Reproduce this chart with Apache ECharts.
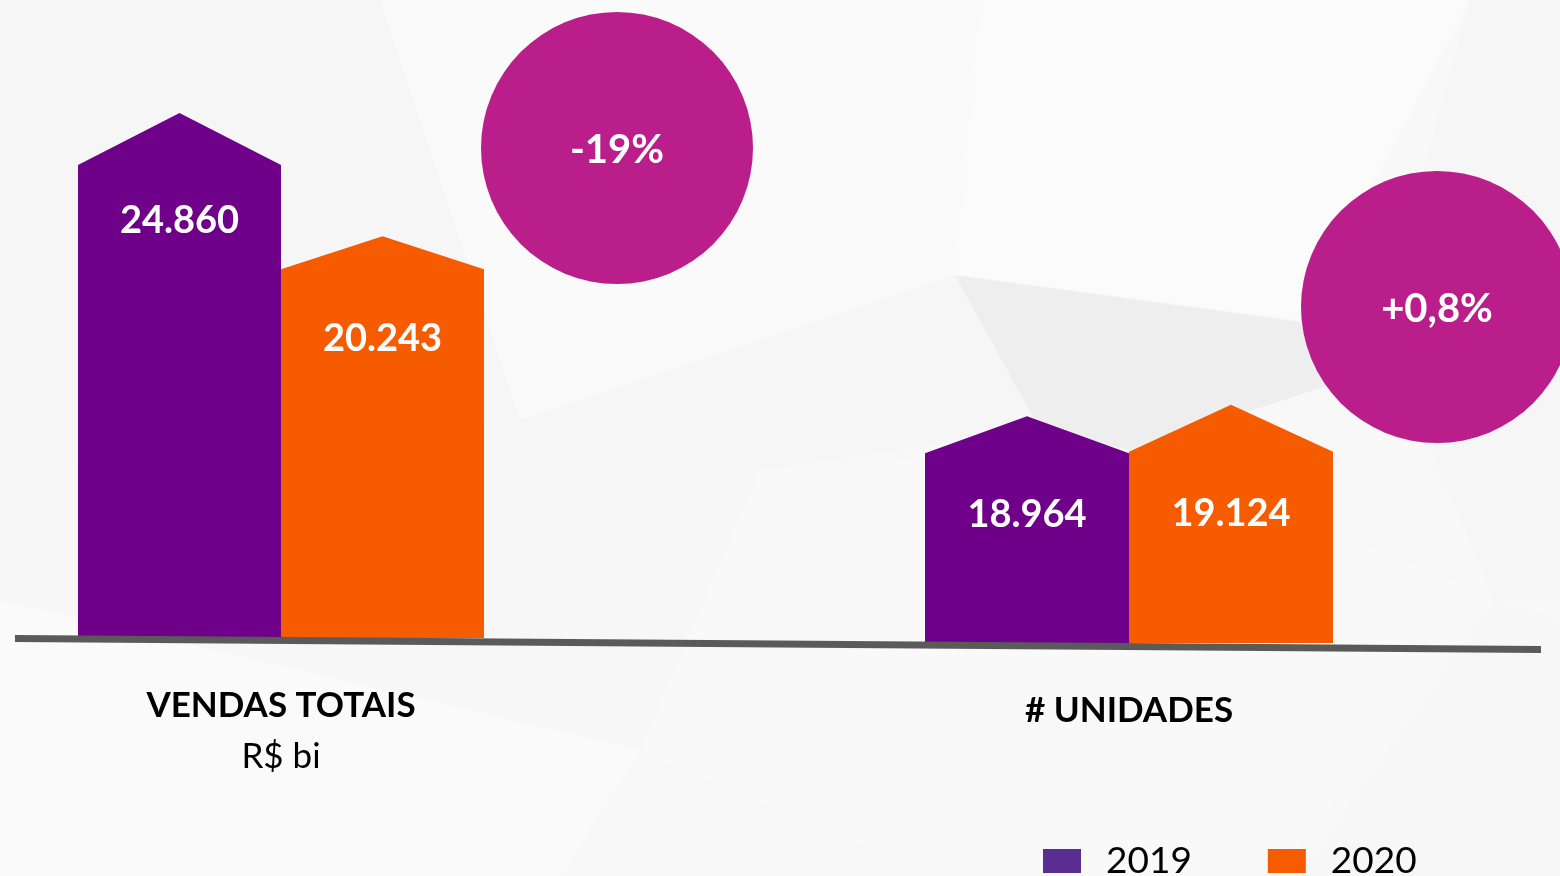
<!DOCTYPE html>
<html>
<head>
<meta charset="utf-8">
<script src="https://cdn.jsdelivr.net/npm/echarts@6/dist/echarts.min.js"></script>
<style>
  html, body { margin: 0; padding: 0; background: #f8f8f9; }
  #chart { width: 1560px; height: 876px; }
</style>
</head>
<body>
<div id="chart"></div>
<script>
// dados
const categories = ['VENDAS TOTAIS', '# UNIDADES']
const unitLabels = ['R$ bi', '']
const years = ['2019', '2020']
const values2019 = [24860, 18964]
const values2020 = [20243, 19124]
const changeLabels = ['-19%', '+0,8%']

// estilo
const barColors = ['#6e0089', '#f75b00']
const legendColors = ['#5a2e91', '#f75b00']
const circleColor = '#ba1e8a'
const roofPx = [[52, 33], [37, 47]]
const labelDy = [[56, 70], [61, 62]]
const FONT = 'Lato, "Open Sans", sans-serif'

const fmt = v => String(v).replace(/\B(?=(\d{3})+(?!\d))/g, '.')

const chart = echarts.init(document.getElementById('chart'))

// desenha a barra em forma de casa
const makeRender = (g, k) => (params, api) => {
  const cs = params.coordSys
  const pt = api.coord([api.value(0), api.value(1)])
  const band = api.size([1, 0])[0]
  const w = band / 2
  const x0 = pt[0] - band / 2 + k * w
  const top = pt[1]
  const base = cs.y + cs.height
  const roof = roofPx[g][k]
  return {
    type: 'group',
    children: [
      {
        type: 'polygon',
        shape: {
          points: [[x0, base], [x0, top], [x0 + w / 2, top - roof], [x0 + w, top], [x0 + w, base]]
        },
        style: { fill: barColors[k] }
      },
      {
        type: 'text',
        x: x0 + w / 2,
        y: top + labelDy[g][k],
        style: {
          text: fmt(api.value(1)),
          fill: '#fff',
          font: 'bold 38px ' + FONT,
          align: 'center',
          verticalAlign: 'middle'
        }
      }
    ]
  }
}

const seriesList = []
categories.forEach((cat, g) => {
  [values2019, values2020].forEach((vals, k) => {
    seriesList.push({
      name: years[k],
      type: 'custom',
      xAxisIndex: g,
      yAxisIndex: g,
      itemStyle: { color: barColors[k] },
      renderItem: makeRender(g, k),
      data: [[0, vals[g]]],
      z: 2
    })
  })
})

// fundo facetado (bem suave)
const facets = [
  { points: [[0, 0], [380, 0], [520, 420], [0, 470]], fill: '#f6f6f7' },
  { points: [[380, 0], [980, 0], [955, 275], [520, 420]], fill: '#fafafb' },
  { points: [[980, 0], [1470, 0], [1300, 320], [955, 275]], fill: '#fbfbfc' },
  { points: [[520, 420], [955, 275], [1040, 430], [760, 470]], fill: '#f6f6f7' },
  { points: [[955, 275], [1300, 322], [1330, 385], [1130, 450], [1040, 430]], fill: '#eeeeef' },
  { points: [[0, 470], [520, 420], [760, 470], [640, 750], [0, 600]], fill: '#f7f7f8' },
  { points: [[760, 470], [1130, 450], [1495, 600], [1190, 980], [640, 750]], fill: '#f9f9fa' },
  { points: [[1470, 0], [1560, 0], [1560, 600], [1495, 600], [1380, 330]], fill: '#f6f6f7' },
  { points: [[0, 600], [640, 750], [560, 876], [0, 876]], fill: '#fafafa' },
  { points: [[1495, 600], [1560, 620], [1560, 876], [1300, 876]], fill: '#f7f7f8' }
]

const graphics = facets.map(f => ({
  type: 'polygon',
  z: -10,
  silent: true,
  shape: { points: f.points },
  style: { fill: f.fill }
}))

graphics.push({
  type: 'polyline',
  z: 20,
  shape: { points: [[15, 638.5], [1541, 649.5]] },
  style: { stroke: '#5a5a5a', lineWidth: 7 }
})

const circles = [
  { cx: 617, cy: 148 },
  { cx: 1437, cy: 307 }
]
circles.forEach((c, i) => {
  graphics.push({
    type: 'circle',
    z: 20,
    shape: { cx: c.cx, cy: c.cy, r: 136 },
    style: { fill: circleColor }
  })
  graphics.push({
    type: 'text',
    z: 21,
    x: c.cx,
    y: c.cy + 2,
    style: {
      text: changeLabels[i],
      fill: '#fff',
      font: 'bold 40px ' + FONT,
      align: 'center',
      verticalAlign: 'middle'
    }
  })
})

const catLabel = (g) => unitLabels[g]
  ? '{t|' + categories[g] + '}\n{u|' + unitLabels[g] + '}'
  : '{t|' + categories[g] + '}'

const option = {
  backgroundColor: '#f8f8f9',
  animation: false,
  graphic: graphics,
  legend: {
    left: 1043,
    top: 841,
    padding: 0,
    itemWidth: 38,
    itemHeight: 24,
    itemGap: 76,
    icon: 'rect',
    textStyle: {
      fontFamily: FONT,
      fontSize: 37,
      color: '#000',
      lineHeight: 40,
      padding: [0, 0, 0, 20]
    },
    data: years.map((y, k) => ({ name: y, itemStyle: { color: legendColors[k] } }))
  },
  grid: [
    { left: 78, right: 1076, top: 49, bottom: 238 },
    { left: 925, right: 227, top: 343, bottom: 233 }
  ],
  xAxis: [0, 1].map(g => ({
    type: 'category',
    gridIndex: g,
    data: [categories[g]],
    axisLine: { show: false },
    axisTick: { show: false },
    axisLabel: {
      margin: 42,
      formatter: () => catLabel(g),
      rich: {
        t: { fontFamily: FONT, fontWeight: 'bold', fontSize: 35, color: '#000', lineHeight: 51 },
        u: { fontFamily: FONT, fontSize: 35, color: '#000', lineHeight: 51 }
      }
    }
  })),
  yAxis: [
    { gridIndex: 0, type: 'value', min: 3900, max: 30000, show: false },
    { gridIndex: 1, type: 'value', min: 0, max: 30000, show: false }
  ],
  series: seriesList
}

chart.setOption(option)
</script>
</body>
</html>
